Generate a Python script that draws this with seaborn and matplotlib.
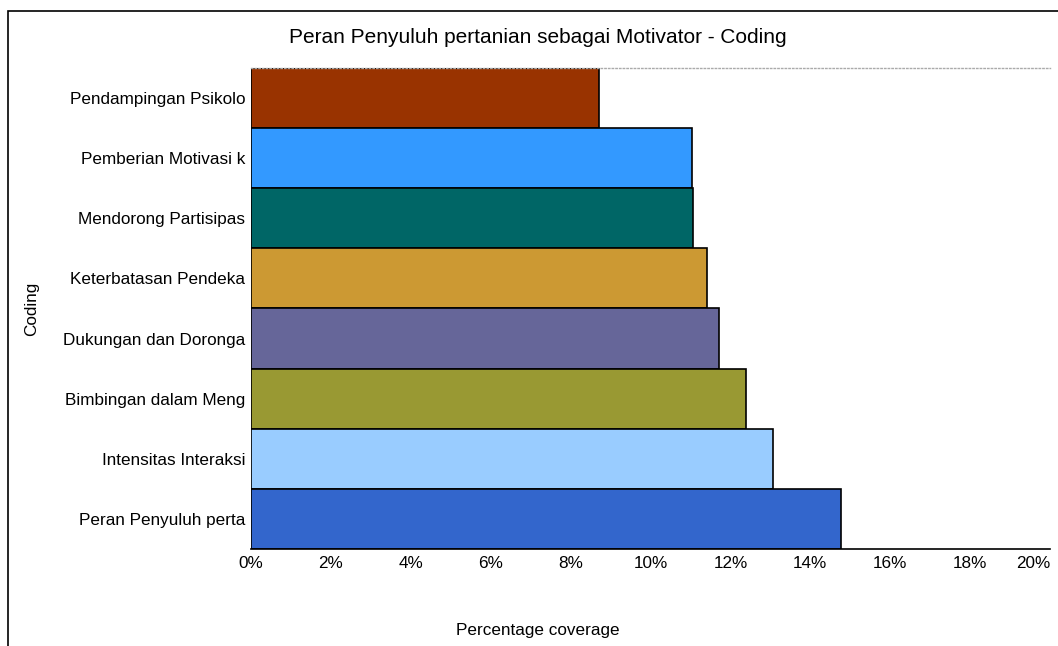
import matplotlib
matplotlib.use("Agg")
import matplotlib.pyplot as plt
import seaborn as sns
from matplotlib.ticker import PercentFormatter
from matplotlib.patches import Rectangle

kategori = ['Pendampingan Psikolo', 'Pemberian Motivasi k', 'Mendorong Partisipas',
            'Keterbatasan Pendeka', 'Dukungan dan Doronga', 'Bimbingan dalam Meng',
            'Intensitas Interaksi', 'Peran Penyuluh perta']
coverage = [8.71, 11.05, 11.06, 11.41, 11.72, 12.38, 13.06, 14.76]
warna = ['#993300', '#3399FF', '#006666', '#CC9933', '#666699', '#999933', '#99CCFF', '#3366CC']
ticks_x = [0, 2, 4, 6, 8, 10, 12, 14, 16, 18, 20]

sns.set_style('white')
plt.rcParams['font.family'] = ['Liberation Sans', 'DejaVu Sans']
plt.rcParams['text.color'] = 'black'
plt.rcParams['axes.labelcolor'] = 'black'

fig = plt.figure(figsize=(10.58, 6.46), dpi=100)
ax = fig.add_axes([251/1058, 97/646, 799/1058, 481/646])

sns.barplot(x=coverage, y=kategori, hue=kategori, palette=warna, legend=False,
            orient='h', width=1.0, edgecolor='black', linewidth=1.2, saturation=1, ax=ax)

ax.set_xlim(0, 20)
ax.set_ylim(7.5, -0.5)
ax.set_xticks(ticks_x)
ax.xaxis.set_major_formatter(PercentFormatter(decimals=0))
ax.tick_params(axis='both', length=0, labelsize=12.3, colors='black')
ax.tick_params(axis='x', pad=5)
ax.tick_params(axis='y', pad=4)

# label 20% digeser ke kiri supaya tidak terpotong
fig.canvas.draw()
ax.get_xticklabels()[-1].set_horizontalalignment('right')
ax.xaxis.get_major_ticks()[-1].label1.set_horizontalalignment('right')

for s in ['right', 'left']:
    ax.spines[s].set_visible(False)
ax.spines['bottom'].set_color('black')
ax.spines['bottom'].set_linewidth(1.2)
ax.spines['top'].set_color('#aaaaaa')
ax.spines['top'].set_linestyle(':')
ax.spines['top'].set_linewidth(1)

ax.set_title('Peran Penyuluh pertanian sebagai Motivator - Coding', fontsize=15,
             x=0.359, y=1.052, pad=0, color='black')
ax.set_xlabel('Percentage coverage', fontsize=12.3)
ax.xaxis.set_label_coords(0.359, -0.154)
ax.set_ylabel('Coding', fontsize=12.3)
ax.yaxis.set_label_coords(-0.265, 0.5)

# bingkai luar
fig.patches.append(Rectangle((8/1058, -0.05), 1.1, (646-11)/646 + 0.05, transform=fig.transFigure,
                             fill=False, edgecolor='black', linewidth=1.2))

fig.savefig('out.png', dpi=100)
